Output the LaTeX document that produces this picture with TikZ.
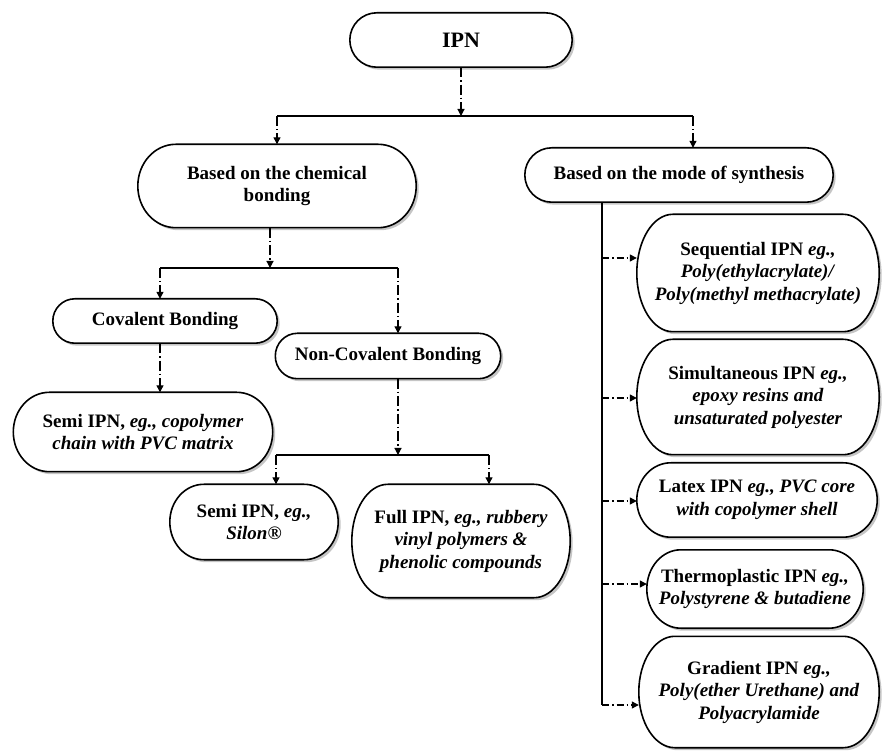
\documentclass[tikz,border=0pt]{standalone}
\usepackage{fontspec}
\setmainfont{Liberation Serif}
\usetikzlibrary{arrows.meta,shadows,calc,backgrounds}
\newcommand\mystad[2]{%
  \draw[boxline] let \p1=(#1.north west), \p2=(#1.south east), \n1={(\y1-\y2)/2} in
    (\x1+#2pt,\y1) -- (\x2-#2pt,\y1)
    arc[start angle=90,end angle=-90,x radius=#2pt,y radius=\n1]
    -- (\x1+#2pt,\y2)
    arc[start angle=270,end angle=90,x radius=#2pt,y radius=\n1] -- cycle;}
\begin{document}
\begin{tikzpicture}[x=1pt,y=1pt,
  txt/.style={inner sep=0pt, align=center, font=\fontsize{19}{22.5}\selectfont\bfseries},
  box/.style 2 args={txt, minimum width=#1pt, minimum height=#2pt},
  boxline/.style={draw=black, line width=1.6pt, fill=white,
    drop shadow={shadow xshift=2.5pt, shadow yshift=-2.5pt, fill=black!45}},
  conn/.style={line width=1.2pt, draw=black},
  dd/.style={conn, dash pattern=on 10pt off 3pt on 1.5pt off 3pt, -{Triangle[length=7pt,width=7pt]}},
  br/.style={conn, dash pattern=on 7pt off 3pt on 1.5pt off 3pt, -{Triangle[length=7pt,width=7pt]}}
]
\useasboundingbox (0,0) rectangle (883,750);

% nodes
\node[box={222}{54}, font=\fontsize{22}{26}\selectfont\bfseries] (ipn) at (461,710) {IPN};
\node[box={278}{83}] (chem) at (277,564) {Based on the chemical\\bonding};
\node[box={308}{54}] (mode) at (679,575) {Based on the mode of synthesis};
\node[box={224}{44}] (cov) at (165,429) {Covalent Bonding};
\node[box={225}{45}] (noncov) at (388,394) {Non-Covalent Bonding};
\node[box={259}{79}] (semi) at (143,318) {Semi IPN, \textit{eg., copolymer}\\\textit{chain with PVC matrix}};
\node[box={168}{75}] (silon) at (254,228) {Semi IPN, \textit{eg.,}\\\textit{Silon}®};
\node[box={218}{113}] (full) at (461,209) {Full IPN, \textit{eg., rubbery}\\\textit{vinyl polymers \&}\\\textit{phenolic compounds}};
\node[box={242}{117}] (seq) at (758,477) {Sequential IPN \textit{eg.,}\\\textit{Poly(ethylacrylate)/}\\\textit{Poly(methyl methacrylate)}};
\node[box={242}{115}] (sim) at (758,353) {Simultaneous IPN \textit{eg.,}\\\textit{epoxy resins and}\\\textit{unsaturated polyester}};
\node[box={240}{74}] (latex) at (757,250) {Latex IPN \textit{eg., PVC core}\\\textit{with copolymer shell}};
\node[box={216}{78}] (thermo) at (755,161) {Thermoplastic IPN \textit{eg.,}\\\textit{Polystyrene \& butadiene}};
\node[box={240}{111}] (grad) at (759,58) {Gradient IPN \textit{eg.,}\\\textit{Poly(ether Urethane) and}\\\textit{Polyacrylamide}};

\begin{pgfonlayer}{background}
\mystad{ipn}{27}
\mystad{chem}{38}
\mystad{mode}{27}
\mystad{cov}{22}
\mystad{noncov}{22}
\mystad{semi}{36}
\mystad{silon}{34}
\mystad{full}{36}
\mystad{seq}{36}
\mystad{sim}{36}
\mystad{latex}{34}
\mystad{thermo}{34}
\mystad{grad}{36}
\end{pgfonlayer}

% top level
\coordinate (b1L) at (277,634);
\coordinate (b1R) at (693,634);
\draw[dd] (ipn.south) -- (ipn.south |- b1L);
\draw[conn] (b1L) -- (b1R);
\draw[dd] (b1L) -- (b1L |- chem.north);
\draw[dd] (b1R) -- (b1R |- mode.north);

% chemical bonding
\coordinate (b2L) at (160,482);
\coordinate (b2R) at (398,482);
\draw[dd] ([xshift=-7pt]chem.south) -- ([xshift=-7pt]chem.south |- b2L);
\draw[conn] (b2L) -- (b2R);
\draw[dd] (b2L) -- (b2L |- cov.north);
\draw[dd] (b2R) -- (b2R |- noncov.north);
\draw[dd] (cov.south -| b2L) -- (b2L |- semi.north);

% non-covalent
\coordinate (b3L) at (276,295);
\coordinate (b3R) at (489,295);
\draw[dd] (noncov.south -| b2R) -- (b2R |- b3L);
\draw[conn] (b3L) -- (b3R);
\draw[dd] (b3L) -- (b3L |- silon.north);
\draw[dd] (b3R) -- (b3R |- full.north);

% synthesis trunk
\coordinate (t1) at (602,492);
\coordinate (t2) at (602,352);
\coordinate (t3) at (602,249);
\coordinate (t4) at (602,166);
\coordinate (t5) at (602,45);
\draw[conn] (mode.south -| t5) -- (t5);
\draw[br] (t1) -- (t1 -| seq.west);
\draw[br] (t2) -- (t2 -| sim.west);
\draw[br] (t3) -- (t3 -| latex.west);
\draw[br] (t4) -- (t4 -| thermo.west);
\draw[br] (t5) -- (t5 -| grad.west);
\end{tikzpicture}
\end{document}
